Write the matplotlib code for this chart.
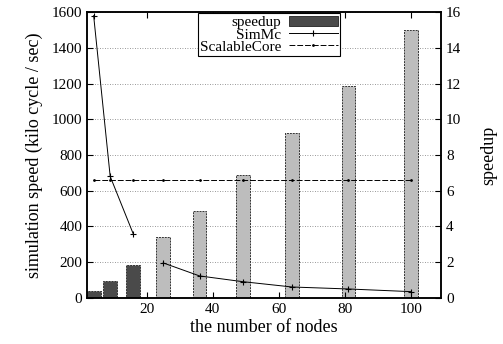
import numpy as np
import matplotlib
matplotlib.use("Agg")
import matplotlib.pyplot as plt

# number of nodes (2x2 ... 10x10 mesh)
nodes = [4, 9, 16, 25, 36, 49, 64, 81, 100]
speedup = [0.39, 0.95, 1.84, 3.39, 4.88, 6.89, 9.22, 11.84, 15.0]

# SimMc simulation speed, two runs (small and large configs)
simmc_nodes_a = [4, 9, 16]
simmc_speed_a = [1580, 680, 357]
simmc_nodes_b = [25, 36, 49, 64, 81, 100]
simmc_speed_b = [196, 123, 91, 61, 50, 35]

# ScalableCore simulation speed
scalable_speed = [660, 660, 660, 660, 660, 660, 660, 660, 660]

xticks = [20, 40, 60, 80, 100]

plt.rcParams['font.family'] = ['Liberation Serif', 'DejaVu Serif']

fig = plt.figure(figsize=(5.03, 3.44), dpi=100)
ax = fig.add_axes([0.173, 0.134, 0.704, 0.831])
ax2 = ax.twinx()
ax.set_zorder(ax2.get_zorder() + 1)
ax.patch.set_visible(False)

# speedup bars on the right axis
colors = ['#4a4a4a' if n <= 16 else '#bdbdbd' for n in nodes]
bars = ax2.bar(nodes, speedup, width=4.2, color=colors, edgecolor='#333333',
               linewidth=0.7, linestyle=(0, (2, 1)), zorder=2)
ax2.set_ylim(0, 16)
ax2.set_yticks(range(0, 17, 2))
ax2.set_axisbelow(True)
ax2.yaxis.grid(True, linestyle=(0, (1, 2)), color='#777777', linewidth=0.6)
ax2.set_ylabel('speedup', fontsize=13, labelpad=14)

# simulation speed lines on the left axis
l1, = ax.plot(simmc_nodes_a, simmc_speed_a, color='black', lw=0.7,
              marker='+', ms=5, mew=0.8)
ax.plot(simmc_nodes_b, simmc_speed_b, color='black', lw=0.7,
        marker='+', ms=5, mew=0.8)
l2, = ax.plot(nodes, scalable_speed, color='black', lw=0.7,
              linestyle=(0, (6, 2)), marker='.', ms=2)

ax.set_ylim(0, 1600)
ax.set_yticks(range(0, 1601, 200))
ax.set_xlim(2, 109)
ax.set_xticks(xticks)
ax.set_xlabel('the number of nodes', fontsize=13, labelpad=2)
ax.set_ylabel('simulation speed (kilo cycle / sec)', fontsize=13, labelpad=6)

for a in (ax, ax2):
    a.tick_params(direction='in', labelsize=11, length=4, width=0.8)
    for s in a.spines.values():
        s.set_linewidth(1.1)
ax.tick_params(top=True)

bar_handle = plt.Rectangle((0, 0), 1, 1, facecolor='#4a4a4a', edgecolor='#333333', lw=0.7)
leg = ax.legend([bar_handle, l1, l2], ['speedup', 'SimMc', 'ScalableCore'],
                loc='upper right', bbox_to_anchor=(0.715, 0.995),
                markerfirst=False, fancybox=False, framealpha=1,
                edgecolor='black', fontsize=11, handlelength=3.2,
                borderpad=0.15, labelspacing=-0.1, handletextpad=0.5,
                borderaxespad=0)
leg.get_frame().set_linewidth(0.8)

fig.savefig('out.png', dpi=100)
